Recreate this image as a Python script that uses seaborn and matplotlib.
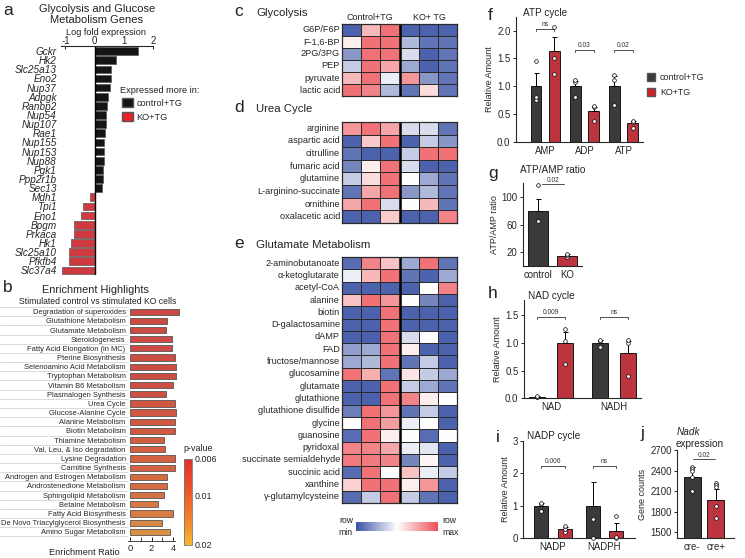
import numpy as np
import pandas as pd
import matplotlib
matplotlib.use('Agg')
import matplotlib.pyplot as plt
import seaborn as sns
from matplotlib.colors import LinearSegmentedColormap, LogNorm, Normalize
from matplotlib.cm import ScalarMappable
from matplotlib.patches import Patch
from matplotlib.transforms import blended_transform_factory

# ── data ──────────────────────────────────────────────
genes = ['Gckr', 'Hk2', 'Slc25a13', 'Eno2', 'Nup37', 'Adpgk', 'Ranbp2', 'Nup54',
         'Nup107', 'Rae1', 'Nup155', 'Nup153', 'Nup88', 'Pgk1', 'Ppp2r1b', 'Sec13',
         'Mdh1', 'Tpi1', 'Eno1', 'Bpgm', 'Prkaca', 'Hk1', 'Slc25a10', 'Pfkfb4', 'Slc37a4']
log_fold = [1.49, 0.75, 0.57, 0.56, 0.53, 0.45, 0.44, 0.38, 0.38, 0.34, 0.33, 0.33,
            0.33, 0.29, 0.29, 0.24, -0.17, -0.39, -0.46, -0.70, -0.72, -0.80, -0.89,
            -0.89, -1.11]

pathways = ['Degradation of superoxides', 'Glutathione Metabolism', 'Glutamate Metabolism',
            'Steroidogenesis', 'Fatty Acid Elongation (in MC)', 'Pterine Biosynthesis',
            'Selenoamino Acid Metabolism', 'Tryptophan Metabolism', 'Vitamin B6 Metabolism',
            'Plasmalogen Synthesis', 'Urea Cycle', 'Glucose-Alanine Cycle',
            'Alanine Metabolism', 'Biotin Metabolism', 'Thiamine Metabolism',
            'Val, Leu, & Iso degradation', 'Lysine Degradation', 'Carnitine Synthesis',
            'Androgen and Estrogen Metabolism', 'Androstenedione Metabolism',
            'Sphingolipid Metabolism', 'Betaine Metabolism', 'Fatty Acid Biosynthesis',
            'De Novo Triacylglycerol Biosynthesis', 'Amino Sugar Metabolism']
enrich_ratio = [4.48, 3.39, 3.33, 3.84, 3.84, 4.16, 4.22, 4.22, 3.94, 3.36, 4.16, 4.29,
                4.16, 4.16, 3.14, 3.26, 4.16, 4.13, 3.39, 3.39, 3.10, 2.60, 3.97, 2.94, 3.71]
enrich_p = [0.0062, 0.0063, 0.0063, 0.0065, 0.0065, 0.0066, 0.0067, 0.0067, 0.0068, 0.0070,
            0.0078, 0.0078, 0.0080, 0.0080, 0.0088, 0.0090, 0.0092, 0.0093, 0.0105,
            0.0105, 0.0110, 0.0120, 0.0125, 0.0140, 0.0150]

glyco_rows = ['G6P/F6P', 'F-1,6-BP', '2PG/3PG', 'PEP', 'pyruvate', 'lactic acid']
glyco_vals = [[-0.9, 0.4, 0.8, -0.9, -0.9, -0.9],
              [0.1, 0.8, 0.8, -0.4, -0.8, -0.8],
              [-0.6, 0.8, 0.8, -0.2, -0.9, -0.8],
              [-0.3, 0.8, 0.5, -0.5, -0.9, -0.8],
              [0.4, 0.8, -0.1, 0.6, -0.6, -0.8],
              [0.8, 0.7, -0.4, -0.8, 0.2, -0.8]]

urea_rows = ['arginine', 'aspartic acid', 'citrulline', 'fumaric acid', 'glutamine',
             'L-arginino-succinate', 'ornithine', 'oxalacetic acid']
urea_vals = [[0.6, 0.8, 0.5, -0.2, -0.2, -0.8],
             [-0.9, 0.3, 0.8, -0.9, -0.3, -0.6],
             [-0.8, -0.9, -0.9, -0.3, 0.8, 0.8],
             [-0.7, 0.1, 0.8, -0.2, -0.9, -0.9],
             [-0.3, 0.2, 0.8, 0.0, -0.5, -0.8],
             [-0.8, 0.5, 0.8, -0.6, -0.4, -0.8],
             [0.5, 0.8, -0.2, 0.0, 0.4, -0.8],
             [-0.9, -0.9, 0.3, -0.9, -0.9, 0.7]]

glu_rows = ['2-aminobutanoate', 'α-ketoglutarate', 'acetyl-CoA', 'alanine', 'biotin',
            'D-galactosamine', 'dAMP', 'FAD', 'fructose/mannose', 'glucosamine',
            'glutamate', 'glutathione', 'glutathione disulfide', 'glycine', 'guanosine',
            'pyridoxal', 'succinate semialdehyde', 'succinic acid', 'xanthine',
            'γ-glutamylcysteine']
glu_vals = [[-0.85, 0.7, 0.35, -0.5, 0.8, -0.8],
            [-0.1, 0.4, 0.8, -0.8, -0.9, -0.5],
            [-0.9, -0.9, -0.9, -0.9, 0.0, 0.7],
            [0.35, 0.8, 0.6, 0.0, -0.7, -0.9],
            [-0.9, -0.9, 0.8, -0.9, -0.9, -0.9],
            [-0.9, -0.9, 0.8, -0.9, -0.9, -0.9],
            [-0.9, -0.9, 0.8, -0.2, 0.0, -0.9],
            [-0.55, -0.5, 0.8, 0.1, -0.9, -0.9],
            [-0.5, -0.4, 0.8, -0.8, -0.3, -0.9],
            [0.8, 0.45, -0.8, 0.15, -0.3, -0.5],
            [-0.9, -0.9, 0.8, -0.3, -0.5, -0.8],
            [-0.9, -0.9, 0.8, 0.7, 0.1, 0.0],
            [-0.75, 0.8, 0.6, -0.8, -0.3, -0.9],
            [0.0, 0.8, 0.55, -0.1, 0.0, -0.9],
            [-0.85, 0.8, 0.1, 0.0, -0.85, 0.0],
            [0.7, 0.7, 0.5, -0.1, -0.15, -0.9],
            [0.75, 0.75, 0.7, -0.7, 0.05, -0.9],
            [-0.85, 0.8, 0.0, 0.35, -0.1, -0.3],
            [0.25, 0.8, 0.8, 0.1, 0.6, -0.9],
            [-0.85, -0.3, 0.8, -0.3, -0.8, -0.9]]

# f: ATP cycle
atp_cats = ['AMP', 'ADP', 'ATP']
atp_ctrl_mean = [1.0, 1.0, 1.0]
atp_ko_mean = [1.63, 0.55, 0.33]
atp_ctrl_err = [0.23, 0.09, 0.18]
atp_ko_err = [0.25, 0.07, 0.04]
atp_ctrl_pts = [[0.75, 0.80, 1.45], [0.80, 1.08, 1.12], [0.67, 1.12, 1.20]]
atp_ko_pts = [[1.22, 1.50, 2.07], [0.38, 0.62, 0.64], [0.25, 0.36, 0.37]]
atp_sig = ['ns', '0.03', '0.02']

# g: ATP/AMP ratio
ratio_cats = ['control', 'KO']
ratio_mean = [80, 15]
ratio_err = [17, 2]
ratio_pts = [[118, 65], [13, 16, 17]]

# h: NAD cycle
nad_cats = ['NAD', 'NADH']
nad_ctrl_mean = [0.03, 1.0]
nad_ko_mean = [1.0, 0.82]
nad_ctrl_err = [0.01, 0.05]
nad_ko_err = [0.2, 0.22]
nad_ctrl_pts = [[0.02, 0.03, 0.04], [0.92, 1.03, 1.05]]
nad_ko_pts = [[0.62, 1.03, 1.25], [0.40, 1.00, 1.05]]
nad_sig = ['0.009', 'ns']

# i: NADP cycle
nadp_cats = ['NADP', 'NADPH']
nadp_ctrl_mean = [1.0, 1.0]
nadp_ko_mean = [0.30, 0.23]
nadp_ctrl_err = [0.08, 0.72]
nadp_ko_err = [0.05, 0.25]
nadp_ctrl_pts = [[0.85, 1.05, 1.08], [0.0, 0.58]]
nadp_ko_pts = [[0.20, 0.30, 0.37], [0.01, 0.03, 0.68]]
nadp_sig = ['0.006', 'ns']

# j: Nadk expression
nadk_cats = ['cre-', 'cre+']
nadk_mean = [2310, 1975]
nadk_err = [140, 150]
nadk_pts = [[2450, 2420, 2390, 2300, 2100], [2220, 2190, 2160, 1885, 1710]]

# ── style ─────────────────────────────────────────────
sns.set_style('ticks')
plt.rcParams['font.family'] = ['Liberation Sans', 'DejaVu Sans']
plt.rcParams['axes.unicode_minus'] = False
plt.rcParams['axes.linewidth'] = 0.8
plt.rcParams['xtick.major.width'] = 0.7
plt.rcParams['ytick.major.width'] = 0.7

DARK = '#3a3a3a'
RED = '#d21f2a'
TXT = '#222222'
W, H = 745, 558

fig = plt.figure(figsize=(W / 100, H / 100), dpi=100)


def px_axes(x0, y0, x1, y1):
    return fig.add_axes([x0 / W, 1 - y1 / H, (x1 - x0) / W, (y1 - y0) / H])


def ftext(x, y, s, **kw):
    kw.setdefault('color', TXT)
    return fig.text(x / W, 1 - y / H, s, **kw)


def letter(x, y, s):
    ftext(x, y, s, fontsize=12.5, va='baseline', ha='left')


# ── a. log fold expression ───────────────────────────
ax = px_axes(61, 46.5, 153, 275)
df_a = pd.DataFrame({'gene': genes, 'lfc': log_fold,
                     'grp': ['ctrl' if v > 0 else 'ko' for v in log_fold]})
sns.barplot(data=df_a, x='lfc', y='gene', hue='grp', palette={'ctrl': '#141414', 'ko': '#e8202a'},
            dodge=False, legend=False, width=0.84, orient='h', edgecolor='#555555',
            linewidth=0.5, ax=ax)
ax.axvline(0, color='black', lw=1.0)
ax.set_xlim(-1.15, 2.0)
ax.set_ylim(24.5, -0.5)
ax.xaxis.tick_top()
ax.set_xticks([-1, 0, 1, 2])
ax.tick_params(axis='x', labelsize=7, length=2, pad=0.5, direction='in')
ax.tick_params(axis='y', length=0, pad=3)
for lab in ax.get_yticklabels():
    lab.set_fontstyle('italic')
    lab.set_fontsize(7.2)
ax.set_xlabel('')
ax.set_ylabel('')
for s in ['left', 'right', 'bottom']:
    ax.spines[s].set_visible(False)
ftext(106, 35, 'Log fold expression', fontsize=6.6, ha='center', va='baseline')
ftext(97, 12, 'Glycolysis and Glucose', fontsize=8, ha='center', va='baseline')
ftext(97, 23, 'Metabolism Genes', fontsize=8, ha='center', va='baseline')
letter(3, 15, 'a')
ftext(120, 93, 'Expressed more in:', fontsize=6.6, va='baseline')
fig.legend(handles=[Patch(facecolor='#141414', edgecolor='#555555', label='control+TG'),
                    Patch(facecolor='#e8202a', edgecolor='#555555', label='KO+TG')],
           loc='upper left', bbox_to_anchor=(122 / W, 1 - 98 / H), frameon=False,
           fontsize=6.6, handlelength=1.15, handleheight=1.15, handletextpad=0.4,
           labelspacing=0.5, borderaxespad=0, borderpad=0)

# ── b. enrichment ────────────────────────────────────
cmap_p = LinearSegmentedColormap.from_list('pv', ['#e2302e', '#ec5228', '#f07f2a', '#f6b632'])
norm_p = LogNorm(vmin=0.006, vmax=0.02)
ax = px_axes(128.3, 307.1, 182, 541)
df_b = pd.DataFrame({'path': pathways, 'ratio': enrich_ratio})
sns.barplot(data=df_b, x='ratio', y='path', hue='path',
            palette=[cmap_p(norm_p(p)) for p in enrich_p], legend=False, width=0.68,
            orient='h', edgecolor='#555555', linewidth=0.6, ax=ax)
ax.set_xlim(-0.15, 4.8)
ax.set_ylim(25.0, -0.5)
for s in ['left', 'right', 'top']:
    ax.spines[s].set_visible(False)
ax.spines['bottom'].set_bounds(-0.15, 4.15)
ax.spines['bottom'].set_linewidth(0.6)
ax.set_xticks([0, 2, 4])
ax.set_xticks([1, 3], minor=True)
ax.tick_params(axis='x', which='both', direction='in', length=3, labelsize=6.8, pad=2)
ax.tick_params(axis='y', length=0, pad=2, labelsize=5.4)
ax.set_xlabel('')
ax.set_ylabel('')
tr = blended_transform_factory(fig.transFigure, ax.transData)
for k in range(len(pathways) + 1):
    ax.plot([0, 126.5 / W], [k - 0.5, k - 0.5], transform=tr, color='#d2d2d2', lw=0.6,
            clip_on=False, zorder=0)
letter(3, 292, 'b')
ftext(95, 293, 'Enrichment Highlights', fontsize=7.8, ha='center', va='baseline')
ftext(98, 303.5, 'Stimulated control vs stimulated KO cells', fontsize=6.2, ha='center',
      va='baseline')
ftext(84, 555, 'Enrichment Ratio', fontsize=6.6, ha='center', va='baseline')

cax = px_axes(184, 459, 192, 545)
cb = fig.colorbar(ScalarMappable(norm=norm_p, cmap=cmap_p), cax=cax)
cb.ax.minorticks_off()
cb.set_ticks([0.006, 0.01, 0.02])
cb.set_ticklabels(['0.006', '0.01', '0.02'])
cb.ax.invert_yaxis()
cb.ax.tick_params(labelsize=6.4, length=0, pad=2, colors=TXT)
cb.outline.set_edgecolor('#777777')
cb.outline.set_linewidth(0.6)
ftext(183, 451, 'p-value', fontsize=6.4, va='baseline')

# ── c, d, e. heatmaps ────────────────────────────────
cmap_h = LinearSegmentedColormap.from_list('rowz', ['#3a52a4', '#ffffff', '#ec4f55'])


def heat(ax, rows, vals):
    df = pd.DataFrame(vals, index=rows, columns=['c1', 'c2', 'c3', 'k1', 'k2', 'k3'])
    sns.heatmap(df, cmap=cmap_h, vmin=-1, vmax=1, cbar=False, linewidths=0.6,
                linecolor='#2a2a2a', xticklabels=False, yticklabels=True, ax=ax)
    ax.axvline(3, color='black', lw=1.8)
    for s in ax.spines.values():
        s.set_visible(True)
        s.set_color('#2a2a2a')
        s.set_linewidth(0.9)
    ax.tick_params(axis='y', length=0, pad=1.5, labelsize=6.6, rotation=0)
    ax.set_ylabel('')
    ax.set_xlabel('')


heat(px_axes(342, 24, 457, 96), glyco_rows, glyco_vals)
heat(px_axes(342, 122, 457, 223), urea_rows, urea_vals)
heat(px_axes(342, 257, 457, 503), glu_rows, glu_vals)
letter(234, 16.5, 'c')
ftext(256, 16, 'Glycolysis', fontsize=8.2, va='baseline')
ftext(370, 19.5, 'Control+TG', fontsize=6.5, ha='center', va='baseline')
ftext(429, 19.5, 'KO+ TG', fontsize=6.5, ha='center', va='baseline')
letter(234, 112, 'd')
ftext(256, 112, 'Urea Cycle', fontsize=8.2, va='baseline')
letter(234, 248, 'e')
ftext(256, 247.5, 'Glutamate Metabolism', fontsize=8.2, va='baseline')

cax = px_axes(356, 522, 438, 531)
cbh = fig.colorbar(ScalarMappable(norm=Normalize(-1, 1), cmap=cmap_h), cax=cax,
                   orientation='horizontal')
cbh.set_ticks([])
cbh.outline.set_visible(False)
ftext(353, 526.5, 'row\nmin', fontsize=6.2, ha='right', va='center', linespacing=1.3)
ftext(442, 526.5, 'row\nmax', fontsize=6.2, ha='left', va='center', linespacing=1.3)


# ── bar panels helper ────────────────────────────────
def style_bar_ax(ax, ylab):
    sns.despine(ax=ax)
    ax.tick_params(axis='x', length=0, labelsize=6.9, pad=3)
    ax.tick_params(axis='y', length=2.5, labelsize=6.9, pad=1.5)
    ax.set_xlabel('')
    ax.set_ylabel(ylab, fontsize=6.5, labelpad=2)


def add_points(ax, x, pts):
    ax.scatter(np.full(len(pts), x), pts, s=7, facecolor='white', edgecolor='black',
               linewidths=0.5, zorder=5, clip_on=False)


def bracket(ax, x0, x1, y, text, dy):
    ax.plot([x0, x0, x1, x1], [y - dy, y, y, y - dy], color='#333333', lw=0.6,
            clip_on=False)
    ax.text((x0 + x1) / 2, y + dy * 0.6, text, ha='center', va='bottom', fontsize=4.8,
            color='#333333', clip_on=False)


def pair_panel(ax, cats, cm, km, ce, ke, cp, kp, width, gap, ylab, sig, sig_y, dy):
    n = len(cats)
    df = pd.DataFrame({'cat': cats * 2, 'grp': ['ctrl'] * n + ['ko'] * n, 'val': cm + km})
    sns.barplot(data=df, x='cat', y='val', hue='grp', palette=[DARK, RED], width=width,
                gap=gap, errorbar=None, edgecolor='black', linewidth=0.6, legend=False, ax=ax)
    off = width / 4
    for i in range(n):
        xc, xk = i - off, i + off
        ax.errorbar([xc, xk], [cm[i], km[i]], yerr=[[0, 0], [ce[i], ke[i]]], fmt='none',
                    ecolor='black', elinewidth=0.7, capsize=1.8, capthick=0.7, zorder=4)
        add_points(ax, xc, cp[i])
        add_points(ax, xk, kp[i])
        if sig:
            bracket(ax, xc, xk, sig_y, sig[i], dy)
    style_bar_ax(ax, ylab)


def single_panel(ax, cats, means, errs, pts, width, ylab):
    df = pd.DataFrame({'cat': cats, 'val': means})
    sns.barplot(data=df, x='cat', y='val', hue='cat', palette=[DARK, RED], width=width,
                errorbar=None, edgecolor='black', linewidth=0.6, legend=False, ax=ax)
    for i in range(len(cats)):
        ax.errorbar([i], [means[i]], yerr=[[0], [errs[i]]], fmt='none', ecolor='black',
                    elinewidth=0.7, capsize=1.8, capthick=0.7, zorder=4)
        add_points(ax, i, pts[i])
    style_bar_ax(ax, ylab)


# ── f. ATP cycle ─────────────────────────────────────
ax = px_axes(516, 16.8, 643, 141.7)
pair_panel(ax, atp_cats, atp_ctrl_mean, atp_ko_mean, atp_ctrl_err, atp_ko_err,
           atp_ctrl_pts, atp_ko_pts, 0.94, 0.42, 'Relative Amount', None, 0, 0)
bracket(ax, -0.235, 0.235, 2.03, atp_sig[0], 0.04)
bracket(ax, 0.765, 1.235, 1.65, atp_sig[1], 0.04)
bracket(ax, 1.765, 2.235, 1.65, atp_sig[2], 0.04)
ax.set_ylim(0, 2.25)
ax.set_xlim(-0.75, 2.5)
ax.set_yticks([0, 0.5, 1.0, 1.5, 2.0])
ax.set_yticklabels(['0.0', '0.5', '1.0', '1.5', '2.0'])
letter(488, 20.5, 'f')
ftext(545, 16, 'ATP cycle', fontsize=7.2, ha='center', va='baseline')
fig.legend(handles=[Patch(facecolor=DARK, edgecolor='#555555', label='control+TG'),
                    Patch(facecolor=RED, edgecolor='#555555', label='KO+TG')],
           loc='upper left', bbox_to_anchor=(647 / W, 1 - 73 / H), frameon=False,
           fontsize=6.4, handlelength=0.95, handleheight=0.95, handletextpad=0.5,
           labelspacing=0.7, borderaxespad=0, borderpad=0)

# ── g. ATP/AMP ratio ─────────────────────────────────
ax = px_axes(523, 183, 582, 266)
single_panel(ax, ratio_cats, ratio_mean, ratio_err, ratio_pts, 0.68, 'ATP/AMP ratio')
ax.set_ylim(0, 121)
ax.set_xlim(-0.52, 1.52)
ax.set_yticks([20, 60, 100])
bracket(ax, 0.15, 0.9, 120, '0.02', 0)
letter(488, 178, 'g')
ftext(553, 173, 'ATP/AMP ratio', fontsize=7.2, ha='center', va='baseline')

# ── h. NAD cycle ─────────────────────────────────────
ax = px_axes(524, 300, 641, 398.3)
pair_panel(ax, nad_cats, nad_ctrl_mean, nad_ko_mean, nad_ctrl_err, nad_ko_err,
           nad_ctrl_pts, nad_ko_pts, 0.88, 0.43, 'Relative Amount', nad_sig, 1.46, 0.03)
ax.set_ylim(0, 1.77)
ax.set_xlim(-0.43, 1.43)
ax.set_yticks([0, 0.5, 1.0, 1.5])
ax.set_yticklabels(['0.0', '0.5', '1.0', '1.5'])
letter(488, 298, 'h')
ftext(551, 299, 'NAD cycle', fontsize=7.2, ha='center', va='baseline')

# ── i. NADP cycle ────────────────────────────────────
ax = px_axes(523.3, 440.7, 635, 538.3)
pair_panel(ax, nadp_cats, nadp_ctrl_mean, nadp_ko_mean, nadp_ctrl_err, nadp_ko_err,
           nadp_ctrl_pts, nadp_ko_pts, 0.92, 0.41, 'Relative Amount', nadp_sig, 2.22, 0.05)
ax.set_ylim(0, 3)
ax.set_xlim(-0.57, 1.59)
ax.set_yticks([0, 1, 2, 3])
letter(496, 442, 'i')
ftext(527, 439, 'NADP cycle', fontsize=7.2, ha='left', va='baseline')

# ── j. Nadk expression ───────────────────────────────
ax = px_axes(677.3, 450, 734, 538.3)
single_panel(ax, nadk_cats, nadk_mean, nadk_err, nadk_pts, 0.71, 'Gene counts')
ax.set_ylim(1412, 2700)
ax.set_xlim(-0.64, 1.78)
ax.set_yticks([1500, 1800, 2100, 2400, 2700])
bracket(ax, 0.05, 0.95, 2565, '0.02', 0)
letter(640, 438, 'j')
ftext(677, 435, 'Nadk', fontsize=7.2, fontstyle='italic', ha='left', va='baseline')
ftext(676, 447, 'expression', fontsize=7.2, ha='left', va='baseline')

fig.savefig('out.png', dpi=100)
